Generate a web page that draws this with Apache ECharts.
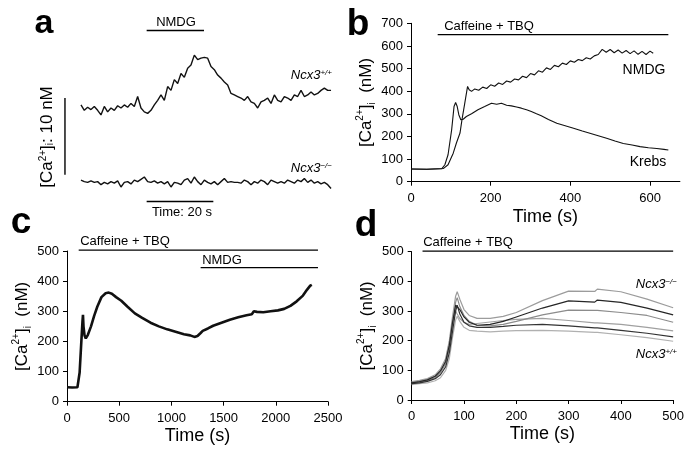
<!DOCTYPE html>
<html>
<head>
    <meta http-equiv="Content-Type" content="text/html; charset=utf-8"/>
    <title>Ncx3 calcium traces</title>
    <style type="text/css">
        html, body { margin: 0; padding: 0; background: #fff; }
        #container { width: 687px; height: 449px; }
    </style>
</head>
<body>
<div id="container"></div>
<script src="https://cdn.jsdelivr.net/npm/echarts@6/dist/echarts.min.js"></script>
<script type="text/javascript">
    // ---- panel a : relative traces (s, nM) ----
    var timeA = [0,1,2,3,4,5,6,7,8,9,10,11,12,13,14,15,16,17,18,19,20,21,22,23,24,25,26,27,28,29,30,31,32,33,34,35,36,37,38,39,40,41,42,43,44,45,46,47,48,49,50,51,52,53,54,55,56,57,58,59,60,61,62,63,64,65,66,67,68,69,70,71,72,73,74,75];
    var wtA = [12.4,11.7,12.1,11.8,12.2,11.7,11.1,12.2,11.5,12.0,11.7,12.3,12.0,12.4,12.1,12.6,12.2,13.5,12.0,11.5,11.3,11.7,12.4,13.0,13.7,13.0,14.8,14.3,15.7,15.2,16.5,16.0,17.2,17.6,18.9,18.3,18.5,18.6,18.5,17.4,17.0,16.3,15.9,15.4,15.0,13.9,13.7,13.5,13.3,13.0,13.5,12.8,12.6,12.0,12.8,13.0,13.3,12.6,13.7,13.0,12.8,13.5,13.3,13.0,13.7,13.5,14.3,13.5,13.7,14.1,13.7,13.9,14.3,14.6,14.3,14.3];
    var koA = [2.6,2.4,2.3,2.5,2.3,2.4,2.0,2.3,2.1,2.4,2.2,2.5,1.7,2.3,2.4,2.1,2.6,2.4,2.7,3.0,2.4,2.3,2.5,2.2,2.4,2.1,2.4,1.7,2.3,2.2,2.0,2.6,2.8,2.2,3.0,2.4,2.0,2.6,2.3,2.1,2.4,2.0,2.4,2.8,2.3,2.4,2.3,2.3,2.2,2.6,2.4,2.0,2.4,2.2,2.6,2.4,2.0,2.6,2.4,2.2,2.4,2.2,2.6,2.4,2.2,2.6,2.4,2.8,2.3,2.6,2.2,2.4,2.1,2.3,2.0,1.5];
    var nmdgBarA = [19.7, 36.9];   // s
    var nmdgBarLevelA = 22.1;
    var timeBarA = [19.7, 39.7];   // 20 s
    var timeBarLevelA = -0.2;
    var caBarA = [3.3, 13.3];      // 10 nM
    var caBarPosA = -4.8;

    // ---- panel b ----
    var timeKrebs = [0,40,77,85,93,102,108,112,116,120,125,131,139,152,168,185,202,215,227,240,252,265,277,290,302,315,327,345,366,387,408,430,449,470,491,512,533,555,575,596,617,635,646];
    var krebsB = [56,55,57,75,119,229,332,350,332,296,274,276,288,300,318,332,347,342,347,338,335,330,325,318,310,300,291,275,258,247,236,224,214,203,192,180,169,162,155,150,147,143,140];
    var timeNmdg = [0,40,81,93,106,114,123,128,135,142,146,152,160,170,180,190,200,210,220,230,240,250,260,270,280,290,300,310,320,330,340,350,360,370,380,390,400,410,420,430,440,450,460,470,480,490,500,510,520,530,540,550,560,570,580,590,600,608];
    var nmdgB = [56,55,58,75,126,171,215,274,347,421,406,399,410,404,418,412,428,422,436,430,445,440,454,450,466,460,478,472,490,484,503,496,514,508,524,518,534,528,540,535,548,542,556,562,585,572,584,570,582,568,580,566,578,563,576,562,577,568];
    var caffBarB = [67, 646];
    var caffLevelB = 650;
    var ticksB = [0, 200, 400, 600];

    // ---- panel c ----
    var timeC = [0,50,100,110,121,135,148,153,158,168,180,200,230,260,290,330,370,400,430,470,520,580,650,720,800,880,960,1040,1120,1180,1220,1250,1280,1300,1350,1400,1480,1560,1640,1720,1770,1790,1820,1880,1950,2020,2080,2140,2200,2260,2300,2330,2345];
    var caC = [48,47,48,52,97,185,265,288,250,220,210,222,250,285,315,347,360,362,358,347,335,315,293,278,262,250,240,232,224,220,215,218,228,235,243,252,262,272,280,287,290,300,298,297,300,303,308,318,333,352,372,385,388];
    var caffBarC = [112, 2404];
    var caffLevelC = 503;
    var nmdgBarC = [1280, 2404];
    var nmdgLevelC = 445;

    // ---- panel d ----
    var timeD = [0,15,30,45,55,65,72,78,84,87,92,100,110,125,150,175,200,250,300,350,355,400,450,500];
    var d1 = [62,66,72,85,105,140,200,280,350,365,340,305,285,275,275,282,295,335,367,366,374,365,340,311];
    var d2 = [58,62,68,80,98,130,185,260,320,325,305,280,262,252,255,265,280,310,334,330,337,329,310,287];
    var d3 = [55,60,66,76,92,122,175,250,330,345,315,285,265,252,250,255,265,287,303,302,302,295,285,262];
    var d4 = [60,64,70,82,100,135,195,265,300,290,275,262,255,258,263,268,272,275,268,260,260,255,245,233];
    var d5 = [55,58,63,72,85,112,160,230,300,320,290,262,250,245,245,248,252,255,250,243,243,235,225,213];
    var d6 = [52,55,58,65,75,100,140,210,270,282,265,245,235,232,230,232,234,235,232,228,228,220,210,198];
    var dColors = ['#9c9c9c', '#262626', '#8c8c8c', '#a0a0a0', '#333333', '#b0b0b0'];
    var caffBarD = [20.7, 500];
    var caffLevelD = 502;

    var FONT = 'Liberation Sans, Arial, sans-serif';

    function zip(xs, ys) {
        var out = [];
        for (var i = 0; i < xs.length; i++) out.push([xs[i], ys[i]]);
        return out;
    }
    function trace(idx, data, color, width) {
        return {
            type: 'line', xAxisIndex: idx, yAxisIndex: idx, data: data,
            symbol: 'none', silent: true, animation: false,
            lineStyle: {color: color, width: width}
        };
    }
    function bar(idx, data, width) {
        var s = trace(idx, data, '#000', width || 1.3);
        s.clip = false;
        return s;
    }
    function plain(v) { return String(v); }

    var caName = '[Ca{sup|2+}]{sub|i}  (nM)';
    var nameStyle = {
        color: '#000', fontSize: 17, fontFamily: FONT, lineHeight: 22,
        rich: {
            sup: {fontSize: 10, fontFamily: FONT, verticalAlign: 'top', lineHeight: 12},
            sub: {fontSize: 10, fontFamily: FONT, verticalAlign: 'bottom', lineHeight: 12}
        }
    };
    var timeName = {color: '#000', fontSize: 18, fontFamily: FONT};
    function valAxis(idx, min, max, interval, extra) {
        var ax = {
            type: 'value', gridIndex: idx, min: min, max: max, interval: interval,
            axisLine: {show: true, lineStyle: {color: '#000', width: 1}},
            axisTick: {show: true, length: 4, lineStyle: {color: '#000'}},
            axisLabel: {color: '#000', fontSize: 13, fontFamily: FONT, margin: 8, formatter: plain},
            splitLine: {show: false}
        };
        for (var k in extra) ax[k] = extra[k];
        return ax;
    }

    var myChart = echarts.init(document.getElementById('container'), null, {renderer: 'canvas'});

    var option = {
        backgroundColor: '#fff',
        animation: false,
        grid: [
            {left: 64.3, top: 16, width: 273.4, height: 191.7},
            {left: 411, top: 23.3, width: 268.9, height: 158.4},
            {left: 67, top: 251, width: 261, height: 150.7},
            {left: 411.7, top: 251.7, width: 265.6, height: 148.3}
        ],
        xAxis: [
            {type: 'value', gridIndex: 0, min: -5, max: 77, show: false},
            valAxis(1, 0, 675, 200, {
                axisTick: {show: true, length: 4, lineStyle: {color: '#000'}, customValues: ticksB},
                axisLabel: {color: '#000', fontSize: 13, fontFamily: FONT, margin: 10, formatter: plain, customValues: ticksB},
                name: 'Time (s)', nameLocation: 'middle', nameGap: 26, nameTextStyle: timeName
            }),
            valAxis(2, 0, 2500, 500, {
                axisLabel: {color: '#000', fontSize: 13, fontFamily: FONT, margin: 10, formatter: plain},
                name: 'Time (s)', nameLocation: 'middle', nameGap: 25, nameTextStyle: timeName
            }),
            valAxis(3, 0, 500, 100, {
                axisLabel: {color: '#000', fontSize: 13, fontFamily: FONT, margin: 10, formatter: plain},
                name: 'Time (s)', nameLocation: 'middle', nameGap: 25, nameTextStyle: timeName
            })
        ],
        yAxis: [
            {type: 'value', gridIndex: 0, min: -1, max: 24, show: false},
            valAxis(1, 0, 700, 100, {name: caName, nameLocation: 'middle', nameGap: 32, nameTextStyle: nameStyle}),
            valAxis(2, 0, 500, 100, {name: caName, nameLocation: 'middle', nameGap: 34, nameTextStyle: nameStyle}),
            valAxis(3, 0, 500, 100, {name: caName, nameLocation: 'middle', nameGap: 33, nameTextStyle: nameStyle})
        ],
        series: [
            // a
            trace(0, zip(timeA, wtA), '#111', 1.4),
            trace(0, zip(timeA, koA), '#111', 1.4),
            bar(0, [[nmdgBarA[0], nmdgBarLevelA], [nmdgBarA[1], nmdgBarLevelA]], 1.4),
            bar(0, [[timeBarA[0], timeBarLevelA], [timeBarA[1], timeBarLevelA]], 1.4),
            bar(0, [[caBarPosA, caBarA[0]], [caBarPosA, caBarA[1]]], 1.4),
            // b
            trace(1, zip(timeKrebs, krebsB), '#111', 1.1),
            trace(1, zip(timeNmdg, nmdgB), '#111', 1.1),
            bar(1, [[caffBarB[0], caffLevelB], [caffBarB[1], caffLevelB]]),
            // c
            trace(2, zip(timeC, caC), '#111', 2.6),
            bar(2, [[caffBarC[0], caffLevelC], [caffBarC[1], caffLevelC]]),
            bar(2, [[nmdgBarC[0], nmdgLevelC], [nmdgBarC[1], nmdgLevelC]]),
            // d
            trace(3, zip(timeD, d6), dColors[5], 1.2),
            trace(3, zip(timeD, d4), dColors[3], 1.2),
            trace(3, zip(timeD, d3), dColors[2], 1.2),
            trace(3, zip(timeD, d1), dColors[0], 1.2),
            trace(3, zip(timeD, d5), dColors[4], 1.2),
            trace(3, zip(timeD, d2), dColors[1], 1.2),
            bar(3, [[caffBarD[0], caffLevelD], [caffBarD[1], caffLevelD]])
        ],
        graphic: [
            // panel letters
            {type: 'text', x: 44, y: 24, style: {text: 'a', font: 'bold 34px ' + FONT, fill: '#000', align: 'center', verticalAlign: 'middle'}},
            {type: 'text', x: 358, y: 25, style: {text: 'b', font: 'bold 37px ' + FONT, fill: '#000', align: 'center', verticalAlign: 'middle'}},
            {type: 'text', x: 21, y: 223, style: {text: 'c', font: 'bold 37px ' + FONT, fill: '#000', align: 'center', verticalAlign: 'middle'}},
            {type: 'text', x: 366, y: 226, style: {text: 'd', font: 'bold 37px ' + FONT, fill: '#000', align: 'center', verticalAlign: 'middle'}},
            // panel a labels
            {type: 'text', x: 176, y: 22, style: {text: 'NMDG', font: '13px ' + FONT, fill: '#000', align: 'center', verticalAlign: 'middle'}},
            {type: 'text', x: 332, y: 75, style: {text: '{i|Ncx3}{s|+/+}', fill: '#000', align: 'right', verticalAlign: 'middle',
                rich: {i: {font: 'italic 13px ' + FONT}, s: {font: 'italic 8px ' + FONT, verticalAlign: 'top'}}}},
            {type: 'text', x: 332, y: 168, style: {text: '{i|Ncx3}{s|\u2212/\u2212}', fill: '#000', align: 'right', verticalAlign: 'middle',
                rich: {i: {font: 'italic 13px ' + FONT}, s: {font: 'italic 8px ' + FONT, verticalAlign: 'top'}}}},
            {type: 'text', x: 182, y: 212, style: {text: 'Time: 20 s', font: '13px ' + FONT, fill: '#000', align: 'center', verticalAlign: 'middle'}},
            {type: 'text', x: 47, y: 137, rotation: Math.PI / 2, style: {text: '[Ca{sup|2+}]{sub|i}: 10 nM', font: '17px ' + FONT, fill: '#000', align: 'center', verticalAlign: 'middle',
                rich: {sup: {font: '10px ' + FONT, verticalAlign: 'top'}, sub: {font: '10px ' + FONT, verticalAlign: 'bottom'}}}},
            // panel b labels
            {type: 'text', x: 489, y: 26, style: {text: 'Caffeine + TBQ', font: '13px ' + FONT, fill: '#000', align: 'center', verticalAlign: 'middle'}},
            {type: 'text', x: 644, y: 70, style: {text: 'NMDG', font: '14px ' + FONT, fill: '#000', align: 'center', verticalAlign: 'middle'}},
            {type: 'text', x: 648, y: 162, style: {text: 'Krebs', font: '14px ' + FONT, fill: '#000', align: 'center', verticalAlign: 'middle'}},
            // panel c labels
            {type: 'text', x: 125, y: 241, style: {text: 'Caffeine + TBQ', font: '13px ' + FONT, fill: '#000', align: 'center', verticalAlign: 'middle'}},
            {type: 'text', x: 222, y: 260, style: {text: 'NMDG', font: '13px ' + FONT, fill: '#000', align: 'center', verticalAlign: 'middle'}},
            // panel d labels
            {type: 'text', x: 468, y: 242, style: {text: 'Caffeine + TBQ', font: '13px ' + FONT, fill: '#000', align: 'center', verticalAlign: 'middle'}},
            {type: 'text', x: 677, y: 284, style: {text: '{i|Ncx3}{s|\u2212/\u2212}', fill: '#000', align: 'right', verticalAlign: 'middle',
                rich: {i: {font: 'italic 13px ' + FONT}, s: {font: 'italic 8px ' + FONT, verticalAlign: 'top'}}}},
            {type: 'text', x: 677, y: 354, style: {text: '{i|Ncx3}{s|+/+}', fill: '#000', align: 'right', verticalAlign: 'middle',
                rich: {i: {font: 'italic 13px ' + FONT}, s: {font: 'italic 8px ' + FONT, verticalAlign: 'top'}}}}
        ]
    };
    myChart.setOption(option);
</script>
</body>
</html>
